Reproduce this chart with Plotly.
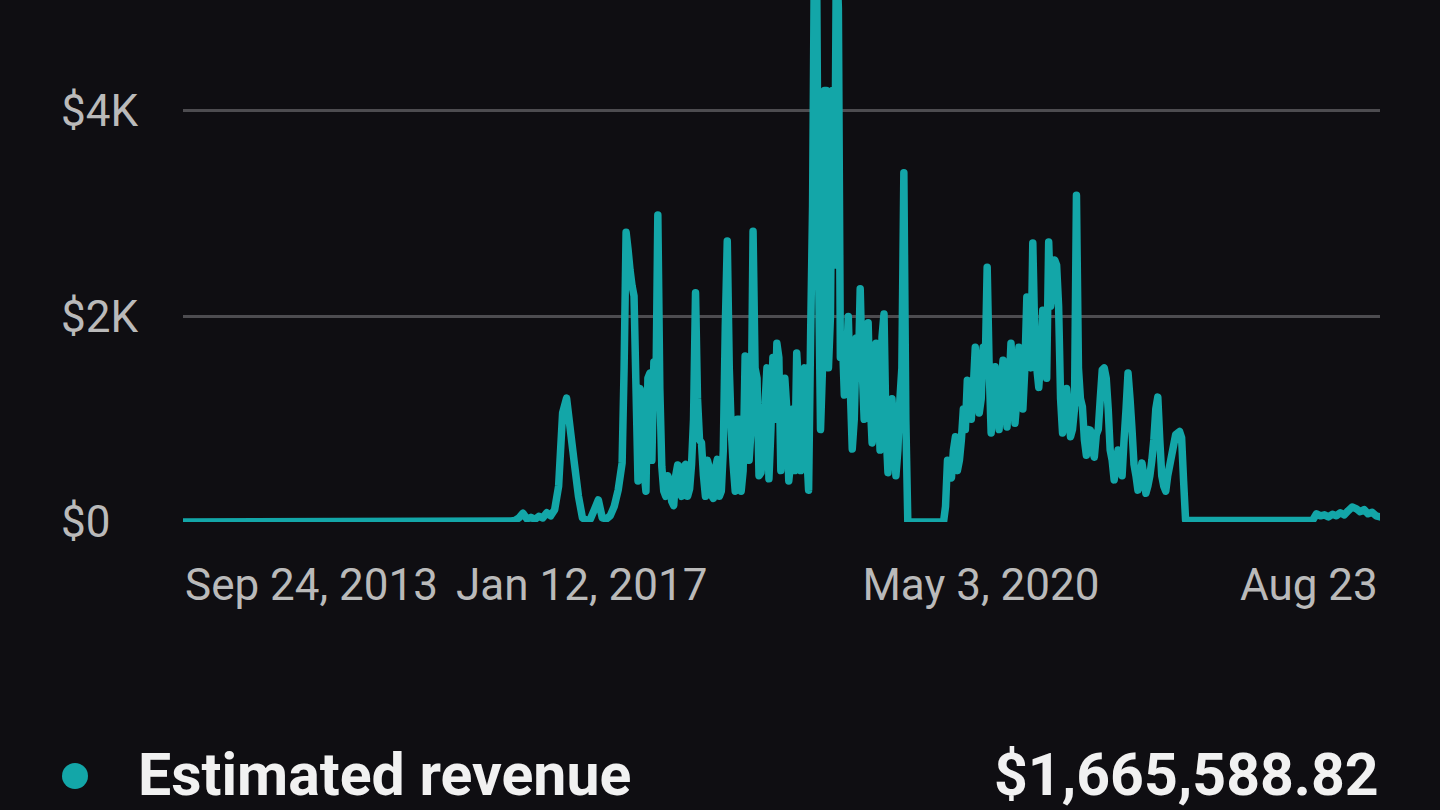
import pandas as pd
import plotly.graph_objects as go

# ---- data ----
first_date = "2013-09-24"          # channel start, revenue $0 until mid-2016
early_start, early_step = "2016-06-12", "12D"
early_revenue = [
    10, 15, 40, 85, 30, 45, 25, 55, 40, 90, 60, 120,
    350, 1060, 1205, 880, 560, 250, 40, 15, 30, 120, 215, 40,
    30, 60, 150, 310,
]
dense_start, dense_step = "2017-05-14", "6D"
dense_revenue = [
    575, 1500, 2820, 2650, 2450, 2300, 2200, 1300, 400, 1300, 1235, 500,
    300, 1400, 1450, 600, 1556, 1200, 2987, 1300, 540, 300, 250, 450,
    390, 200, 160, 450, 555, 300, 250, 540, 560, 250, 320, 560,
    1000, 2230, 1200, 800, 770, 450, 250, 600, 520, 260, 230, 520,
    610, 250, 300, 700, 1900, 2734, 1500, 900, 550, 300, 1000, 1000,
    300, 500, 1615, 1500, 600, 900, 2830, 1500, 1400, 450, 480, 700,
    1140, 1500, 420, 900, 1600, 1000, 1740, 1600, 500, 900, 1400, 1100,
    400, 600, 1100, 500, 1645, 1300, 500, 1200, 1500, 700, 310, 1800,
    3075, 5800, 5500, 2500, 900, 1500, 4200, 4200, 1500, 2000, 4200, 2500,
    5600, 5000, 1600, 1800, 1235, 1500, 2000, 1300, 710, 1000, 1790, 1400,
    2270, 1500, 1000, 1200, 1940, 1200, 770, 900, 1740, 1300, 700, 1800,
    2025, 900, 480, 800, 1200, 900, 450, 700, 1190, 1500, 3400, 1000,
    0, 0, 0, 0, 0, 0, 0, 0, 0, 0, 0, 0,
    0, 0, 0, 0, 0, 0, 0, 150, 600, 450, 430, 700,
    830, 500, 600, 800, 1100, 900, 1380, 1300, 1000, 1300, 1700, 1500,
    1060, 1200, 1700, 1500, 2480, 1500, 866, 1200, 1510, 1100, 900, 1300,
    1575, 1200, 925, 1300, 1740, 1400, 960, 1200, 1700, 1500, 1100, 1500,
    2190, 1800, 1500, 2715, 1800, 1500, 1310, 1600, 2060, 1700, 1400, 2725,
    2100, 2300, 2550, 2500, 2100, 1200, 866, 1000, 1300, 1100, 830, 900,
    1100, 3180, 1500, 1200, 1120, 800, 650, 900, 895, 700, 630, 850,
    900, 1200, 1480, 1500, 1400, 1100, 700, 600, 410, 550, 700, 650,
    450, 800, 1100, 1450, 1200, 900, 560, 450, 310, 400, 575, 450,
    280, 350, 450, 600, 800, 1100, 1215, 800, 450, 350, 300, 450,
    550, 650, 750, 850, 866, 880, 820, 400, 20,
]
late_start, late_step = "2022-01-24", "12D"
late_revenue = [
    15, 15, 15, 15, 15, 15, 15, 15, 15, 15, 15, 15,
    15, 15, 15, 15, 15, 15, 15, 15, 15, 15, 15, 15,
    15, 15, 15, 15, 15, 15, 15, 15,
    80, 60, 70, 50, 75, 60, 90, 70, 110, 145, 130, 100,
    120, 80, 95, 60, 50,
]
x_range = ["2013-09-24", "2023-08-23"]
x_tick_dates = ["2013-09-24", "2017-01-12", "2020-05-03", "2023-08-23"]
x_tick_text = ["Sep 24, 2013", "Jan 12, 2017", "May 3, 2020", "Aug 23"]
y_tick_vals = [0, 2000, 4000]
y_tick_text = ["$0", "$2K", "$4K"]
metric_name = "Estimated revenue"
metric_total = "$1,665,588.82"

dates = ([pd.Timestamp(first_date)]
         + list(pd.date_range(early_start, periods=len(early_revenue), freq=early_step))
         + list(pd.date_range(dense_start, periods=len(dense_revenue), freq=dense_step))
         + list(pd.date_range(late_start, periods=len(late_revenue), freq=late_step)))
values = [0] + early_revenue + dense_revenue + late_revenue

# ---- style ----
BG = "#0f0e12"
TEAL = "#13a6a8"
GRID = "#4d4c50"
LABEL = "#bababa"
W, H = 1440, 810
ML, MR, MT, MB = 0, 60, 0, 288
plot_w = W - ML - MR
plot_h = H - MT - MB
x0_px = 183

fig = go.Figure()
fig.add_trace(go.Scatter(
    x=dates, y=values, mode="lines",
    line=dict(color=TEAL, width=7.5, simplify=False),
    showlegend=False, hoverinfo="skip",
))

fig.update_layout(
    width=W, height=H,
    margin=dict(l=ML, r=MR, t=MT, b=MB, pad=0),
    paper_bgcolor=BG, plot_bgcolor=BG,
    font=dict(family="Roboto", color=LABEL),
    xaxis=dict(
        type="date", range=x_range, domain=[x0_px / plot_w, 1],
        tickvals=x_tick_dates[1:3], ticktext=x_tick_text[1:3],
        showgrid=False, zeroline=False, showline=False, ticks="",
        tickfont=dict(family="Roboto", size=44, color=LABEL),
        ticklabelstandoff=33,
    ),
    yaxis=dict(
        range=[0, 5080], anchor="free", position=57 / plot_w,
        tickvals=y_tick_vals, ticktext=y_tick_text,
        ticklabelposition="inside", ticklabeloverflow="allow",
        showline=False, ticks="", zeroline=False,
        showgrid=True, gridcolor=GRID, gridwidth=3,
        tickfont=dict(family="Roboto", size=44, color=LABEL),
    ),
)

lab_y = (plot_h - 585) / plot_h
fig.add_annotation(x=x_tick_dates[0], xref="x", y=lab_y, yref="paper",
                   text=x_tick_text[0], showarrow=False, xanchor="left",
                   yanchor="middle",
                   font=dict(family="Roboto", size=44, color=LABEL))
fig.add_annotation(x=x_tick_dates[-1], xref="x", y=lab_y, yref="paper",
                   text=x_tick_text[-1], showarrow=False, xanchor="right",
                   yanchor="middle",
                   font=dict(family="Roboto", size=44, color=LABEL))

# legend row
bottom_y = (plot_h - 810) / plot_h
fig.add_shape(type="circle", xref="paper", yref="paper",
              x0=62 / plot_w, x1=88 / plot_w,
              y0=(plot_h - 789) / plot_h, y1=(plot_h - 763) / plot_h,
              fillcolor=TEAL, line=dict(width=0))
fig.add_annotation(x=137 / plot_w, xref="paper", y=bottom_y, yref="paper",
                   text=f"<b>{metric_name}</b>", showarrow=False,
                   xanchor="left", yanchor="bottom", borderpad=0,
                   font=dict(family="Roboto", size=59, color="#f1f1f1"))
fig.add_annotation(x=1380 / plot_w, xref="paper", y=bottom_y, yref="paper",
                   text=f"<b>{metric_total}</b>", showarrow=False,
                   xanchor="right", yanchor="bottom", borderpad=0,
                   font=dict(family="Roboto", size=59, color="#f1f1f1"))

post = """
document.querySelectorAll('.scatterlayer path.js-line').forEach(function(p){
  p.style.strokeLinejoin = 'round';
  p.style.strokeLinecap = 'round';
});
"""
fig.write_html("out.html", post_script=post)
